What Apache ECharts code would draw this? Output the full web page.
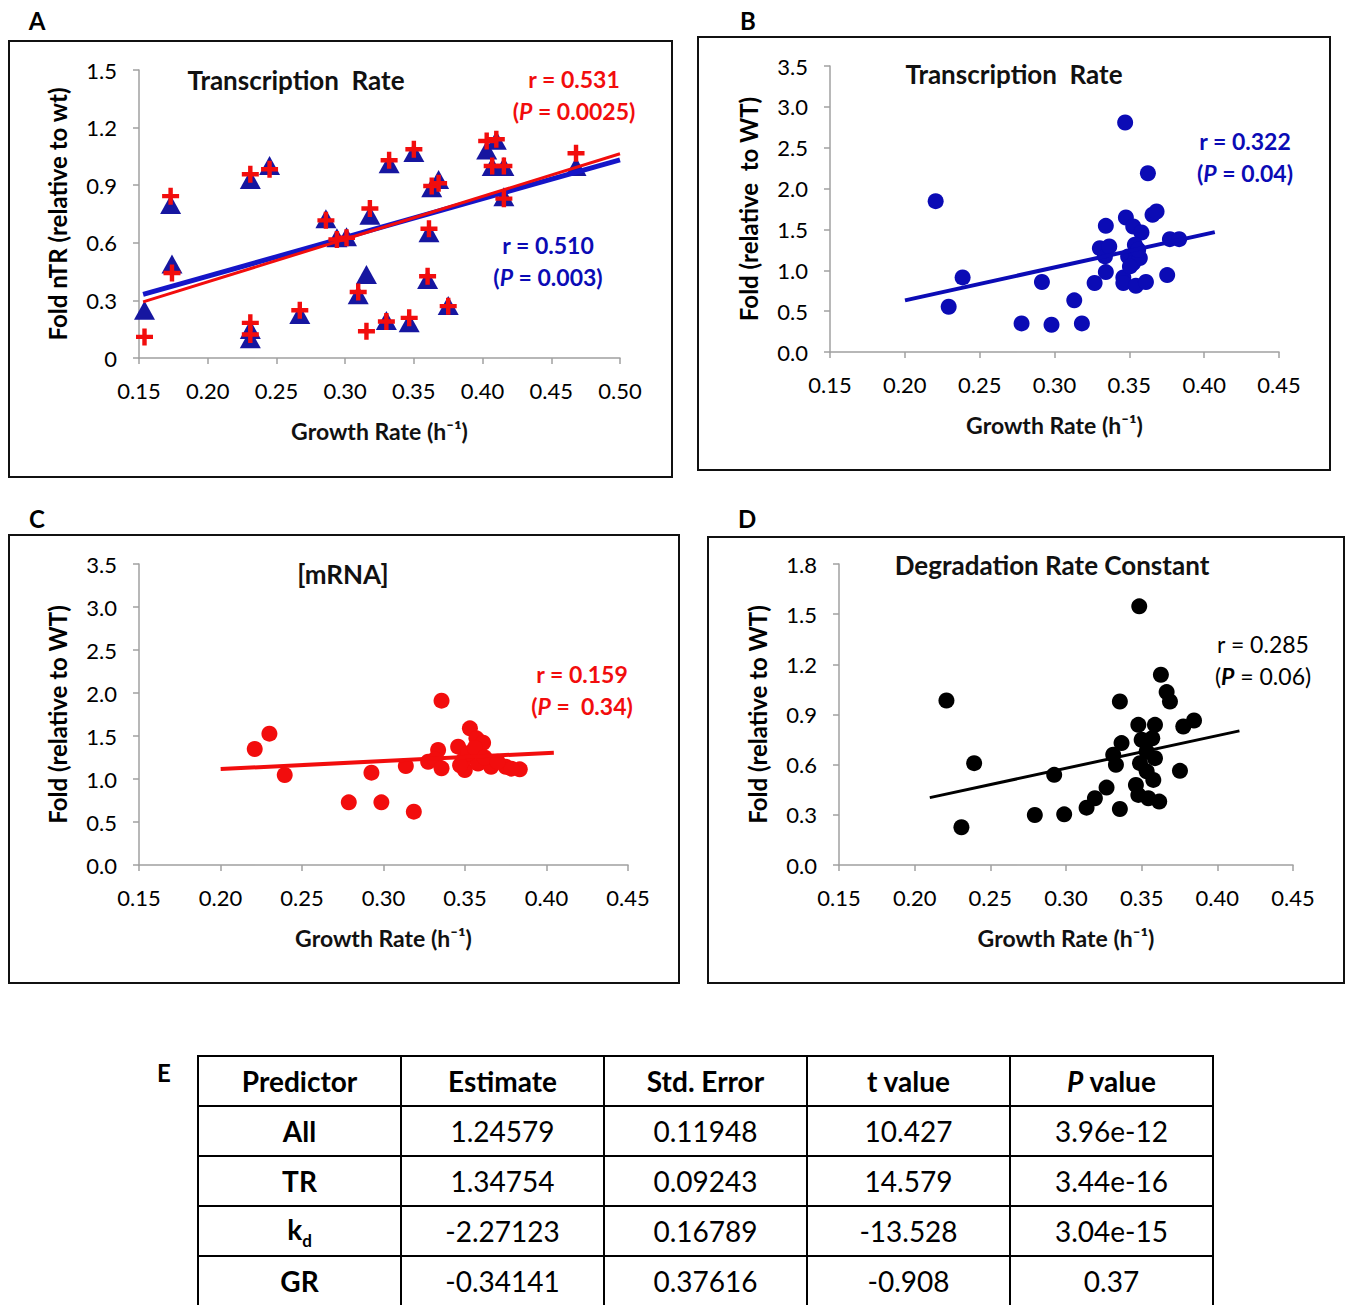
<!DOCTYPE html>
<html>
<head>
<meta charset="utf-8">
<script src="https://cdn.jsdelivr.net/npm/echarts@6/dist/echarts.min.js"></script>
<style>
  html, body { margin: 0; padding: 0; background: #fff; width: 1347px; height: 1305px; overflow: hidden; }
  #main { position: absolute; left: 0; top: 0; width: 1347px; height: 1305px; }
  #tbl { position: absolute; left: 197px; top: 1055px; border-collapse: collapse; font-family: Lato, sans-serif; font-size: 28px; color: #000; }
  #tbl td, #tbl th { border: 2.5px solid #000; width: 201px; height: 48px; padding: 0; text-align: center; }
  #tbl th { font-weight: bold; }
  #tbl td.h { font-weight: bold; }
  #tbl sub { font-size: 17px; }
</style>
</head>
<body>
<div id="main"></div>
<table id="tbl"></table>
<script>
// A: growth rate vs fold nTR (triangles = blue, crosses = red)
const grA = [0.154, 0.173, 0.174, 0.231, 0.231, 0.231, 0.245, 0.267, 0.286, 0.294, 0.301, 0.3095, 0.3155, 0.318, 0.330,
  0.332, 0.3466, 0.350, 0.360, 0.361, 0.363, 0.368, 0.375, 0.403, 0.407, 0.410, 0.4155, 0.4155, 0.468];
const ntrBlue = [0.249, 0.80, 0.49, 0.93, 0.148, 0.10, 1.003, 0.226, 0.725, 0.626, 0.631, 0.33, 0.435, 0.744, 0.195,
  1.012, 0.183, 1.07, 0.409, 0.652, 0.887, 0.93, 0.273, 1.083, 0.997, 1.134, 0.997, 0.84, 0.997];
const ntrRed = [0.11, 0.843, 0.443, 0.957, 0.183, 0.122, 0.983, 0.249, 0.717, 0.617, 0.626, 0.344, 0.139, 0.779, 0.19,
  1.03, 0.209, 1.087, 0.426, 0.673, 0.896, 0.91, 0.27, 1.13, 1.0, 1.139, 1.0, 0.83, 1.066];
const fitBlueA = [[0.153, 0.331], [0.50, 1.032]];
const fitRedA = [[0.153, 0.292], [0.50, 1.064]];

// B: transcription rate
const grB = [0.2206, 0.2293, 0.2386, 0.278, 0.2916, 0.298, 0.3132, 0.3183, 0.3268, 0.3303, 0.3337, 0.3343, 0.3343, 0.3366,
  0.3472, 0.3477, 0.346, 0.346, 0.3526, 0.3581, 0.3544, 0.3611, 0.3624, 0.3655, 0.3682, 0.3753, 0.3771, 0.3833,
  0.3492, 0.3537, 0.3548, 0.3526, 0.357, 0.3504, 0.3559];
const trB = [1.846, 0.554, 0.913, 0.350, 0.856, 0.334, 0.632, 0.350, 0.844, 1.271, 1.17, 1.544, 0.978, 1.292,
  2.808, 1.646, 0.913, 0.844, 1.536, 1.463, 0.811, 0.856, 2.188, 1.679, 1.72, 0.941, 1.381, 1.381,
  1.170, 1.312, 1.210, 1.088, 1.149, 1.047, 1.251];
const fitB = [[0.2001, 0.632], [0.4071, 1.467]];

// C: [mRNA]
const grC = [0.221, 0.230, 0.2394, 0.2787, 0.2926, 0.2987, 0.3137, 0.3186, 0.3356, 0.3274, 0.3335, 0.3315, 0.3356,
  0.3458, 0.3499, 0.353, 0.357, 0.3611, 0.355, 0.349, 0.358, 0.366, 0.375, 0.3836, 0.3785, 0.352, 0.347, 0.356, 0.362, 0.370];
const mrnaC = [1.349, 1.527, 1.047, 0.729, 1.074, 0.729, 1.151, 0.620, 1.911, 1.20, 1.337, 1.229, 1.124,
  1.376, 1.105, 1.589, 1.473, 1.422, 1.26, 1.22, 1.18, 1.143, 1.143, 1.112, 1.12, 1.30, 1.16, 1.36, 1.25, 1.20];
const fitC = [[0.2001, 1.116], [0.4045, 1.306]];

// D: degradation rate constant
const grD = [0.221, 0.2393, 0.2309, 0.2794, 0.2922, 0.2988, 0.3136, 0.3191, 0.3268, 0.3356, 0.3356, 0.3367, 0.3312, 0.333,
  0.3484, 0.3478, 0.350, 0.3489, 0.3462, 0.3478, 0.3544, 0.3588, 0.357, 0.3588, 0.3577, 0.3616, 0.3627, 0.3665,
  0.3687, 0.3753, 0.3775, 0.3846, 0.3533, 0.3533];
const kdD = [0.984, 0.609, 0.226, 0.299, 0.539, 0.303, 0.343, 0.399, 0.463, 0.978, 0.335, 0.729, 0.659, 0.599,
  1.547, 0.838, 0.749, 0.609, 0.479, 0.419, 0.399, 0.838, 0.758, 0.639, 0.509, 0.379, 1.138, 1.034,
  0.978, 0.563, 0.828, 0.864, 0.679, 0.56];
const fitD = [[0.210, 0.403], [0.4146, 0.802]];

// E: regression table
const tblHead = ['Predictor', 'Estimate', 'Std. Error', 't value', '<i>P</i> value'];
const tblRows = [
  ['All', '1.24579', '0.11948', '10.427', '3.96e-12'],
  ['TR', '1.34754', '0.09243', '14.579', '3.44e-16'],
  ['k<sub>d</sub>', '-2.27123', '0.16789', '-13.528', '3.04e-15'],
  ['GR', '-0.34141', '0.37616', '-0.908', '0.37']
];

const FONT = 'Lato, "Open Sans", sans-serif';
const BLUE = '#0b0bb5';
const RED = '#f20d0d';
const zip = (xs, ys) => xs.map((x, i) => [x, ys[i]]);
const plus = 'path://M3.7,0H6.3V3.7H10V6.3H6.3V10H3.7V6.3H0V3.7H3.7Z';

const grids = [
  { left: 139, top: 70, width: 481, height: 288 },
  { left: 830, top: 66, width: 449, height: 286 },
  { left: 139, top: 564, width: 489, height: 301 },
  { left: 839, top: 564, width: 454, height: 301 }
];

function xAx(i, max) {
  return {
    gridIndex: i, type: 'value', min: 0.15, max: max, interval: 0.05,
    name: 'Growth Rate (h\u207B\u00B9)', nameLocation: 'middle', nameGap: 61,
    nameTextStyle: { fontFamily: FONT, fontSize: 23, fontWeight: 'bold', color: '#111' },
    axisLine: { lineStyle: { color: '#a0a0a0', width: 1.5 } },
    axisTick: { length: 6, lineStyle: { color: '#a0a0a0', width: 1.5 } },
    axisLabel: { fontFamily: FONT, fontSize: 22, color: '#000', margin: 21, formatter: v => v.toFixed(2) },
    splitLine: { show: false }
  };
}
function yAx(i, max, step, name, zeroPlain) {
  return {
    gridIndex: i, type: 'value', min: 0, max: max, interval: step,
    name: name, nameLocation: 'middle', nameGap: 70,
    nameTextStyle: { fontFamily: FONT, fontSize: 24, fontWeight: 'bold', color: '#000' },
    axisLine: { show: true, lineStyle: { color: '#a0a0a0', width: 1.5 } },
    axisTick: { show: true, length: 6, lineStyle: { color: '#a0a0a0', width: 1.5 } },
    axisLabel: { fontFamily: FONT, fontSize: 22, color: '#000', margin: 22,
      formatter: v => (zeroPlain && v === 0) ? '0' : v.toFixed(1) },
    splitLine: { show: false }
  };
}
function dots(i, data, color) {
  return { type: 'scatter', xAxisIndex: i, yAxisIndex: i, data: data, symbol: 'circle', symbolSize: 16,
    itemStyle: { color: color, opacity: 1 }, silent: true };
}
function fit(i, data, color, w) {
  return { type: 'line', xAxisIndex: i, yAxisIndex: i, data: data, symbol: 'none',
    lineStyle: { color: color, width: w }, silent: true, z: 3 };
}

function txt(x, y, s, size, weight, color) {
  return { type: 'text', x: x, y: y, z: 10,
    style: { text: s, font: weight + ' ' + size + 'px ' + FONT, fill: color,
      textAlign: 'center', textVerticalAlign: 'middle' } };
}
function stat(x, y, r, p, color, weight) {
  const rich = {
    n: { fontFamily: FONT, fontSize: 23, fontWeight: weight, fill: color, color: color },
    i: { fontFamily: FONT, fontSize: 23, fontWeight: 'bold', fontStyle: 'italic', fill: color, color: color }
  };
  return [
    txt(x, y, 'r = ' + r, 23, weight, color),
    { type: 'text', x: x, y: y + 32, z: 10,
      style: { text: '{n|(}{i|P}{n|' + p + ')}', rich: rich, fill: color, textAlign: 'center', textVerticalAlign: 'middle' } }
  ];
}
function box(x, y, w, h) {
  return { type: 'rect', shape: { x: x, y: y, width: w, height: h }, z: 1,
    style: { fill: 'none', stroke: '#111', lineWidth: 2 } };
}

const chart = echarts.init(document.getElementById('main'), null, { renderer: 'svg' });
chart.setOption({
  animation: false,
  backgroundColor: '#fff',
  grid: grids,
  xAxis: [xAx(0, 0.50), xAx(1, 0.45), xAx(2, 0.45), xAx(3, 0.45)],
  yAxis: [
    yAx(0, 1.5, 0.3, 'Fold nTR (relative to wt)', true),
    yAx(1, 3.5, 0.5, 'Fold (relative  to WT)'),
    yAx(2, 3.5, 0.5, 'Fold (relative to WT)'),
    yAx(3, 1.8, 0.3, 'Fold (relative to WT)')
  ],
  series: [
    { type: 'scatter', xAxisIndex: 0, yAxisIndex: 0, data: zip(grA, ntrBlue), symbol: 'triangle',
      symbolSize: [21, 19], itemStyle: { color: '#1616a0', opacity: 1 }, silent: true },
    { type: 'scatter', xAxisIndex: 0, yAxisIndex: 0, data: zip(grA, ntrRed), symbol: plus,
      symbolSize: 17, itemStyle: { color: RED, opacity: 1 }, silent: true, z: 4 },
    fit(0, fitBlueA, '#1515c8', 5),
    Object.assign(fit(0, fitRedA, RED, 3), { z: 5 }),
    dots(1, zip(grB, trB), BLUE),
    fit(1, fitB, BLUE, 4),
    dots(2, zip(grC, mrnaC), RED),
    fit(2, fitC, RED, 4),
    dots(3, zip(grD, kdD), '#000'),
    fit(3, fitD, '#000', 3)
  ],
  graphic: [
    box(9, 41, 663, 436), box(698, 37, 632, 433), box(9, 535, 670, 448), box(708, 537, 636, 446),
    txt(37, 20, 'A', 24, 'bold', '#000'),
    txt(748, 20, 'B', 24, 'bold', '#000'),
    txt(37, 518, 'C', 24, 'bold', '#000'),
    txt(747, 518, 'D', 24, 'bold', '#000'),
    txt(164, 1072, 'E', 24, 'bold', '#000'),
    txt(296, 80, 'Transcription  Rate', 26, 'bold', '#111'),
    txt(1014, 74, 'Transcription  Rate', 26, 'bold', '#111'),
    txt(343, 574, '[mRNA]', 26, 'bold', '#111'),
    txt(1052, 565, 'Degradation Rate Constant', 26, 'bold', '#111'),
    ...stat(574, 79, '0.531', ' = 0.0025', RED, 'bold'),
    ...stat(548, 245, '0.510', ' = 0.003', BLUE, 'bold'),
    ...stat(1245, 141, '0.322', ' = 0.04', BLUE, 'bold'),
    ...stat(582, 674, '0.159', ' =  0.34', RED, 'bold'),
    ...stat(1263, 644, '0.285', ' = 0.06', '#000', 'normal')
  ]
});

// table E
const tbl = document.getElementById('tbl');
tbl.innerHTML = '<tr>' + tblHead.map(h => '<th>' + h + '</th>').join('') + '</tr>' +
  tblRows.map(r => '<tr>' + r.map((c, j) => '<td' + (j === 0 ? ' class="h"' : '') + '>' + c + '</td>').join('') + '</tr>').join('');
</script>
</body>
</html>
